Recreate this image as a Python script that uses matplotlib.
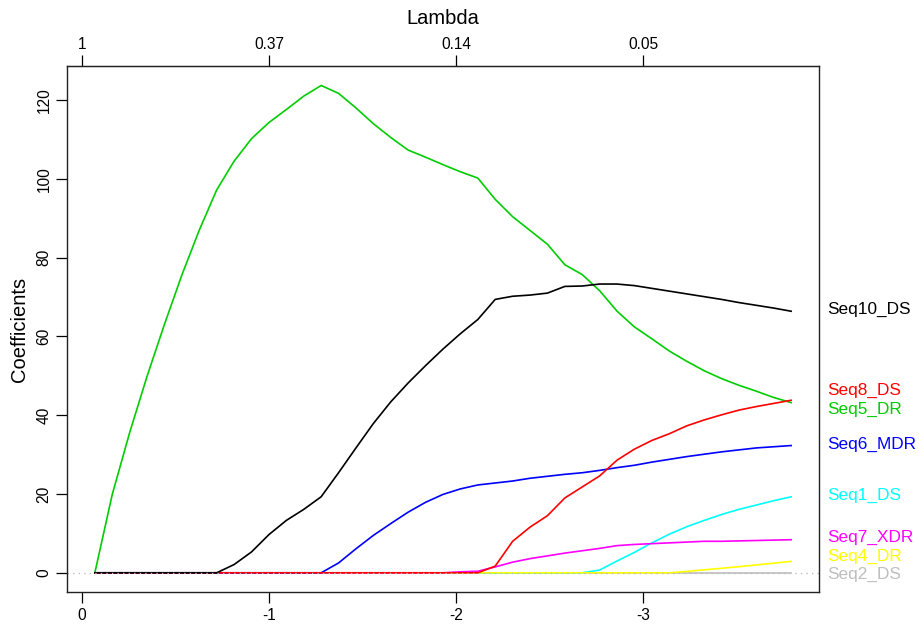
import numpy as np
import matplotlib
matplotlib.use("Agg")
import matplotlib.pyplot as plt
import matplotlib.transforms as mtransforms

plt.rcParams["font.family"] = ["Liberation Sans", "DejaVu Sans"]

# log(lambda) path, 41 steps
log_lambda = [-0.069, -0.162, -0.255, -0.348, -0.441, -0.534, -0.627, -0.720,
              -0.813, -0.906, -0.999, -1.092, -1.185, -1.278, -1.371, -1.464,
              -1.557, -1.650, -1.743, -1.836, -1.929, -2.022, -2.115, -2.208,
              -2.301, -2.394, -2.487, -2.580, -2.673, -2.766, -2.859, -2.952,
              -3.045, -3.138, -3.231, -3.324, -3.417, -3.510, -3.603, -3.696,
              -3.789]

# coefficient paths
seq10_ds = [0, 0, 0, 0, 0, 0, 0, 0, 2.1, 5.3, 9.7, 13.3, 16.1, 19.3, 25.4, 31.7,
            37.9, 43.4, 48.2, 52.6, 56.8, 60.7, 64.3, 69.4, 70.2, 70.5, 71.0,
            72.7, 72.8, 73.3, 73.3, 72.9, 72.2, 71.5, 70.8, 70.1, 69.4, 68.6,
            67.9, 67.2, 66.4]
seq8_ds = [0] * 23 + [1.7, 8.0, 11.6, 14.5, 19.0, 21.8, 24.6, 28.6, 31.4, 33.6,
                      35.3, 37.3, 38.8, 40.1, 41.3, 42.2, 43.0, 43.8]
seq5_dr = [0, 19.9, 35.6, 49.9, 63.1, 75.6, 87.0, 97.2, 104.5, 110.2, 114.3,
           117.6, 121.0, 123.7, 121.7, 118.0, 114.0, 110.5, 107.3, 105.5, 103.6,
           101.8, 100.2, 94.8, 90.4, 86.9, 83.4, 78.2, 75.7, 71.6, 66.4, 62.4,
           59.4, 56.3, 53.7, 51.3, 49.3, 47.6, 46.1, 44.5, 43.2]
seq6_mdr = [0] * 14 + [2.5, 6.1, 9.5, 12.5, 15.4, 17.9, 19.9, 21.3, 22.3, 22.8,
                       23.3, 24.0, 24.5, 25.0, 25.4, 26.0, 26.7, 27.3, 28.1,
                       28.8, 29.5, 30.1, 30.7, 31.2, 31.7, 32.0, 32.3]
seq1_ds = [0] * 29 + [0.7, 3.0, 5.2, 7.6, 9.8, 11.7, 13.3, 14.8, 16.1, 17.2,
                      18.3, 19.3]
seq7_xdr = [0] * 21 + [0.25, 0.4, 1.5, 2.7, 3.6, 4.3, 5.0, 5.6, 6.2, 6.9, 7.2,
                       7.4, 7.6, 7.8, 8.0, 8.0, 8.1, 8.2, 8.3, 8.4]
seq4_dr = [0] * 34 + [0.35, 0.75, 1.15, 1.55, 2.0, 2.45, 2.9]
seq2_ds = [0] * 41

names = ["Seq10_DS", "Seq8_DS", "Seq5_DR", "Seq6_MDR",
         "Seq1_DS", "Seq7_XDR", "Seq4_DR", "Seq2_DS"]
paths = [seq10_ds, seq8_ds, seq5_dr, seq6_mdr, seq1_ds, seq7_xdr, seq4_dr, seq2_ds]
colors = ["black", "#FF0000", "#00CD00", "#0000FF",
          "#00FFFF", "#FF00FF", "#FFFF00", "#BEBEBE"]

lam_ticks = [0, -1, -2, -3]

fig = plt.figure(figsize=(9.2, 6.26), dpi=100)
ax = fig.add_axes([67 / 920, (626 - 592.3) / 626, (819 - 67) / 920, (592.3 - 66) / 626])

x = np.array(log_lambda)
# draw back to front so the zero stretch shows black, then red, then yellow
for i in [7, 4, 6, 5, 3, 2, 1, 0]:
    ax.plot(x, paths[i], color=colors[i], lw=1.2, solid_joinstyle="miter")
ax.axhline(0, color="#BEBEBE", lw=1.0, ls=(0, (1, 3)))

# R-like 4% padding
xr = x.max() - x.min()
ax.set_xlim(x.max() + 0.04 * xr, x.min() - 0.04 * xr)
ymax = max(max(p) for p in paths)
ymin = min(min(p) for p in paths)
yr = ymax - ymin
ax.set_ylim(ymin - 0.04 * yr, ymax + 0.04 * yr)

ax.set_xticks(lam_ticks)
ax.set_xticklabels([str(t) for t in lam_ticks])
ax.set_yticks(range(0, 121, 20))
ax.tick_params(axis="both", direction="out", length=8, width=0.9,
               labelsize=11.2, pad=3)
ax.tick_params(axis="y", labelrotation=90)
for lab in ax.get_yticklabels():
    lab.set_va("center")
for s in ax.spines.values():
    s.set_linewidth(1.0)
    s.set_color("#222222")

top = ax.secondary_xaxis("top")
top.set_xticks(lam_ticks)
top.set_xticklabels(["%.2g" % np.exp(t) for t in lam_ticks])
top.tick_params(direction="out", length=8, width=0.9, labelsize=11.2, pad=2)

fig.text(443 / 920, 1 - 18 / 626, "Lambda", ha="center", va="center", fontsize=14.5)
fig.text(19.5 / 920, 0.5 * ((626 - 592.3) + (626 - 66)) / 626, "Coefficients",
         rotation=90, ha="center", va="center", fontsize=14.5)

# spread the end labels so they don't overlap
ends = [p[-1] for p in paths]
gap = 4.7
order = sorted(range(len(ends)), key=lambda i: ends[i])
groups = [[i] for i in order]
pos = {}
changed = True
while changed:
    changed = False
    for g in groups:
        c = np.mean([ends[i] for i in g])
        n = len(g)
        for j, i in enumerate(g):
            pos[i] = c + (j - (n - 1) / 2) * gap
    for a in range(len(groups) - 1):
        lo, hi = groups[a], groups[a + 1]
        if pos[hi[0]] - pos[lo[-1]] < gap - 1e-9:
            groups[a] = lo + hi
            del groups[a + 1]
            changed = True
            break

trans = mtransforms.blended_transform_factory(ax.transAxes, ax.transData)
for i, name in enumerate(names):
    ax.annotate(name, xy=(1.0, pos[i] + 0.4), xycoords=trans,
                xytext=(6, 0), textcoords="offset points",
                ha="left", va="center", fontsize=12.4,
                color=colors[i], annotation_clip=False)

fig.savefig("out.png", dpi=100)
